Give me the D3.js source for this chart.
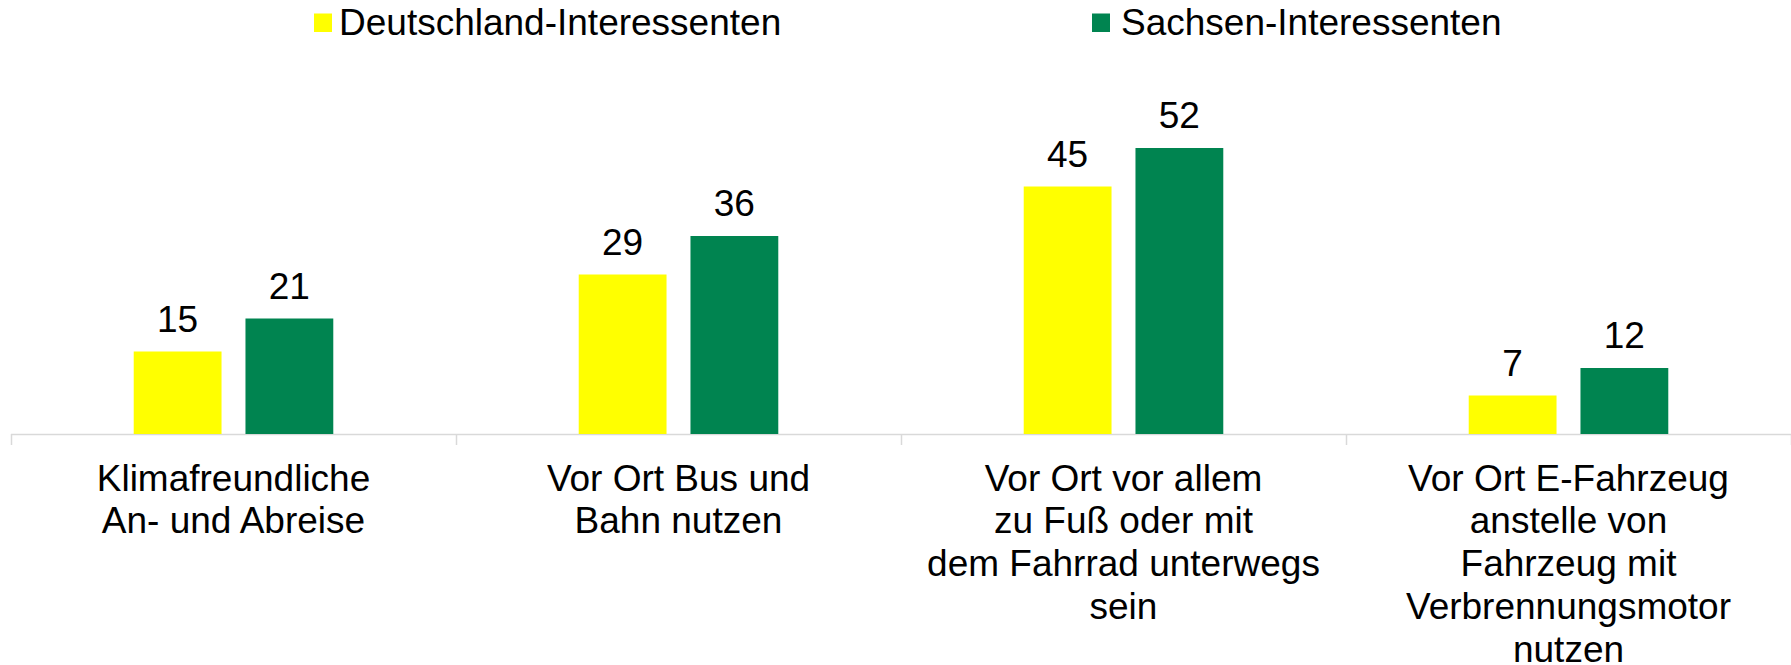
<!DOCTYPE html>
<html>
<head>
<meta charset="utf-8">
<script src="https://cdn.jsdelivr.net/npm/d3@7"></script>
<style>
  html, body { margin: 0; padding: 0; background: #fff; }
  svg { display: block; font-family: "Liberation Sans", Arial, sans-serif; }
</style>
</head>
<body>
<svg id="chart" width="1791" height="665"></svg>
<script>
const categories = [
  ['Klimafreundliche', 'An- und Abreise'],
  ['Vor Ort Bus und', 'Bahn nutzen'],
  ['Vor Ort vor allem', 'zu Fuß oder mit', 'dem Fahrrad unterwegs', 'sein'],
  ['Vor Ort E-Fahrzeug', 'anstelle von', 'Fahrzeug mit', 'Verbrennungsmotor', 'nutzen']
];
const seriesNames = ['Deutschland-Interessenten', 'Sachsen-Interessenten'];
const deutschland = [15, 29, 45, 7];
const sachsen = [21, 36, 52, 12];
const colors = ['#ffff00', '#008450'];

const svg = d3.select('#chart');
const baseY = 434;
const left = 11, right = 1791;

const rows = categories.map((c, i) => ({ idx: i, values: [deutschland[i], sachsen[i]] }));

const x0 = d3.scaleBand()
  .domain(d3.range(categories.length))
  .range([left, right])
  .padding(0);

const x1 = d3.scaleBand()
  .domain(d3.range(seriesNames.length))
  .range([0, x0.bandwidth()])
  .paddingInner(24 / 112)
  .paddingOuter(1.098);

const y = d3.scaleLinear()
  .domain([0, 60])
  .range([baseY, baseY - 330]);

// axis line and boundary ticks
const axisG = svg.append('g');
axisG.append('line')
  .attr('x1', left).attr('x2', right)
  .attr('y1', baseY + 0.5).attr('y2', baseY + 0.5)
  .attr('stroke', '#d9d9d9').attr('stroke-width', 1.5);

const bounds = d3.range(categories.length + 1).map(i => i < categories.length ? x0(i) : right);
axisG.selectAll('.tick')
  .data(bounds)
  .enter()
  .append('line')
  .attr('x1', d => Math.round(d) + 0.5).attr('x2', d => Math.round(d) + 0.5)
  .attr('y1', baseY).attr('y2', baseY + 11)
  .attr('stroke', '#d9d9d9').attr('stroke-width', 1.5);

// bars
const groups = svg.selectAll('.grp')
  .data(rows)
  .enter()
  .append('g')
  .attr('transform', d => `translate(${x0(d.idx)},0)`);

groups.selectAll('rect')
  .data(d => d.values.map((v, s) => ({ v, s })))
  .enter()
  .append('rect')
  .attr('x', d => x1(d.s))
  .attr('y', d => y(d.v))
  .attr('width', x1.bandwidth())
  .attr('height', d => y(0) - y(d.v))
  .attr('fill', d => colors[d.s]);

groups.selectAll('.val')
  .data(d => d.values.map((v, s) => ({ v, s })))
  .enter()
  .append('text')
  .attr('x', d => x1(d.s) + x1.bandwidth() / 2)
  .attr('y', d => y(d.v) - 20)
  .attr('text-anchor', 'middle')
  .attr('font-size', 37)
  .attr('fill', '#000')
  .text(d => d.v);

// category labels
groups.append('text')
  .attr('text-anchor', 'middle')
  .attr('font-size', 37)
  .attr('fill', '#000')
  .selectAll('tspan')
  .data(d => categories[d.idx])
  .enter()
  .append('tspan')
  .attr('x', x0.bandwidth() / 2)
  .attr('y', (d, i) => 490.5 + i * 42.8)
  .text(d => d);

// legend
const legendX = [314, 1092];
const legend = svg.selectAll('.leg')
  .data(seriesNames)
  .enter()
  .append('g')
  .attr('transform', (d, i) => `translate(${legendX[i]},0)`);

legend.append('rect')
  .attr('x', 0).attr('y', 13.5)
  .attr('width', 18).attr('height', 18.5)
  .attr('fill', (d, i) => colors[i]);

legend.append('text')
  .attr('x', (d, i) => i === 0 ? 25 : 29)
  .attr('y', 35)
  .attr('font-size', 37)
  .attr('fill', '#000')
  .text(d => d);
</script>
</body>
</html>
